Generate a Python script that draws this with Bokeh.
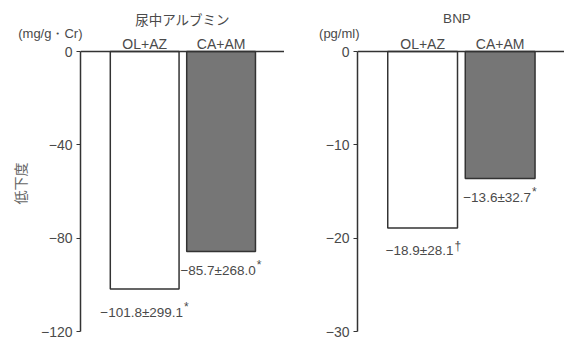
from bokeh.plotting import figure
from bokeh.layouts import row
from bokeh.models import (ColumnDataSource, FixedTicker, CustomJSTickFormatter,
                          Span, Label, Range1d)
from bokeh.core.properties import value
from bokeh.embed import file_html
from bokeh.resources import INLINE

# ---- data -------------------------------------------------------------
groups = ["OL+AZ", "CA+AM"]

alb_mean = [-101.8, -85.7]
alb_sd = [299.1, 268.0]
alb_mark = ["*", "*"]
alb_ticks = [0, -40, -80, -120]

bnp_mean = [-18.9, -13.6]
bnp_sd = [28.1, 32.7]
bnp_mark = ["†", "*"]
bnp_ticks = [0, -10, -20, -30]

# ---- styling ----------------------------------------------------------
LATIN = "Liberation Sans"
CJK = "Noto Sans CJK JP"
TXT = "#4a4a4a"
EDGE = "#333333"
FILLS = ["#ffffff", "#767676"]
LABEL_GAP = [23, 19]         # px from bar end to value label, per bar
H = 340
TOP, BOTTOM = 35, 9          # frame top sits above the zero line
ZERO_PX = 16                 # pixels between frame top and the zero line
AXIS_PX = 280                # pixel length of the value axis
X0, X1 = 0.16, 2.83
VAL_SIZE = 13.5

# Liberation Sans advance widths (per em) for the label characters
ADV = {"−": 0.584, "±": 0.549, ".": 0.278, "*": 0.389, "†": 0.556}


def text_width(s, size):
    return sum(ADV.get(c, 0.556) for c in s) * size


def minus(v):
    return ("−" if v < 0 else "") + f"{abs(v):.1f}"


def header(p, **kw):
    # headers sit in the border above the frame, so attach them to that panel
    p.add_layout(Label(text_baseline="middle", text_color=TXT, **kw), "above")


def panel(title, unit, mean, sd, marks, ticks, width, left, ylabel=None,
          title_dx=0):
    ymin = min(ticks)
    frame_w = width - left
    px_y = (0 - ymin) / AXIS_PX          # data units per pixel (y)
    px_x = (X1 - X0) / frame_w           # data units per pixel (x)

    p = figure(width=width, height=H, output_backend="svg", toolbar_location=None,
               x_range=Range1d(X0, X1), y_range=Range1d(ymin, ZERO_PX * px_y),
               x_axis_location=None, min_border_left=left, min_border_right=0,
               min_border_top=TOP, min_border_bottom=BOTTOM)
    p.outline_line_color = None
    p.grid.grid_line_color = None
    p.background_fill_color = "white"
    p.border_fill_color = "white"

    ax = p.yaxis[0]
    ax.bounds = (ymin, 0)
    ax.ticker = FixedTicker(ticks=ticks)
    ax.formatter = CustomJSTickFormatter(
        code='return tick < 0 ? "−" + Math.abs(tick) : String(tick);')
    ax.minor_tick_line_color = None
    ax.major_tick_in = 0
    ax.major_tick_out = 4
    ax.major_label_standoff = 4
    ax.axis_line_color = EDGE
    ax.axis_line_width = 1.5
    ax.major_tick_line_color = EDGE
    ax.major_tick_line_width = 1.2
    ax.major_label_text_font = LATIN
    ax.major_label_text_font_size = "14px"
    ax.major_label_text_color = TXT
    if ylabel:
        ax.axis_label = ylabel
        ax.axis_label_text_font = CJK
        ax.axis_label_text_font_size = "14px"
        ax.axis_label_text_font_style = "normal"
        ax.axis_label_text_color = "#666666"
        ax.axis_label_standoff = 8

    labels = [minus(m) + "±" + f"{s:.1f}" for m, s in zip(mean, sd)]
    mark_dx = [text_width(l, VAL_SIZE) / 2 - 2 for l in labels]
    mark_dy = [g - 5 for g in LABEL_GAP]
    src = ColumnDataSource(dict(x=[1, 2], top=[0, 0], bottom=mean,
                                fill=FILLS, label=labels, mark=marks,
                                mark_dx=mark_dx, gap=LABEL_GAP, mark_dy=mark_dy))

    p.vbar(x="x", top="top", bottom="bottom", width=0.9, source=src,
           fill_color="fill", line_color=EDGE, line_width=1.5)

    p.text(x="x", y="bottom", text="label", source=src, x_offset=-3,
           y_offset="gap", text_align="center", text_baseline="middle",
           text_color=TXT, text_font=value(LATIN),
           text_font_size=f"{VAL_SIZE}px")
    p.text(x="x", y="bottom", text="mark", source=src, x_offset="mark_dx",
           y_offset="mark_dy", text_align="left", text_baseline="middle",
           text_color=TXT, text_font=value(LATIN), text_font_size="12px")

    # group names just above the zero line
    p.text(x=[1, 2], y=[0, 0], text=groups, y_offset=-8, text_align="center",
           text_baseline="middle", text_color=TXT, text_font=value(LATIN),
           text_font_size="14px")

    p.add_layout(Span(location=0, dimension="width", line_color=EDGE,
                      line_width=1.5))

    header(p, x=(X0 + X1) / 2 + title_dx * px_x, y=33 * px_y, text=title,
           text_align="center", text_font=CJK if title != "BNP" else LATIN,
           text_font_size="13.5px")
    header(p, x=X0 + 2 * px_x, y=18 * px_y, text=unit, text_align="right",
           text_font=LATIN, text_font_size="13px")
    return p


left = panel("尿中アルブミン", "(mg/g・Cr)", alb_mean, alb_sd, alb_mark,
             alb_ticks, 284, 80, ylabel="低下度")
right = panel("BNP", "(pg/ml)", bnp_mean, bnp_sd, bnp_mark,
              bnp_ticks, 280, 73, title_dx=-4)

layout = row(left, right)
open("out.html", "w").write(file_html(layout, INLINE))
